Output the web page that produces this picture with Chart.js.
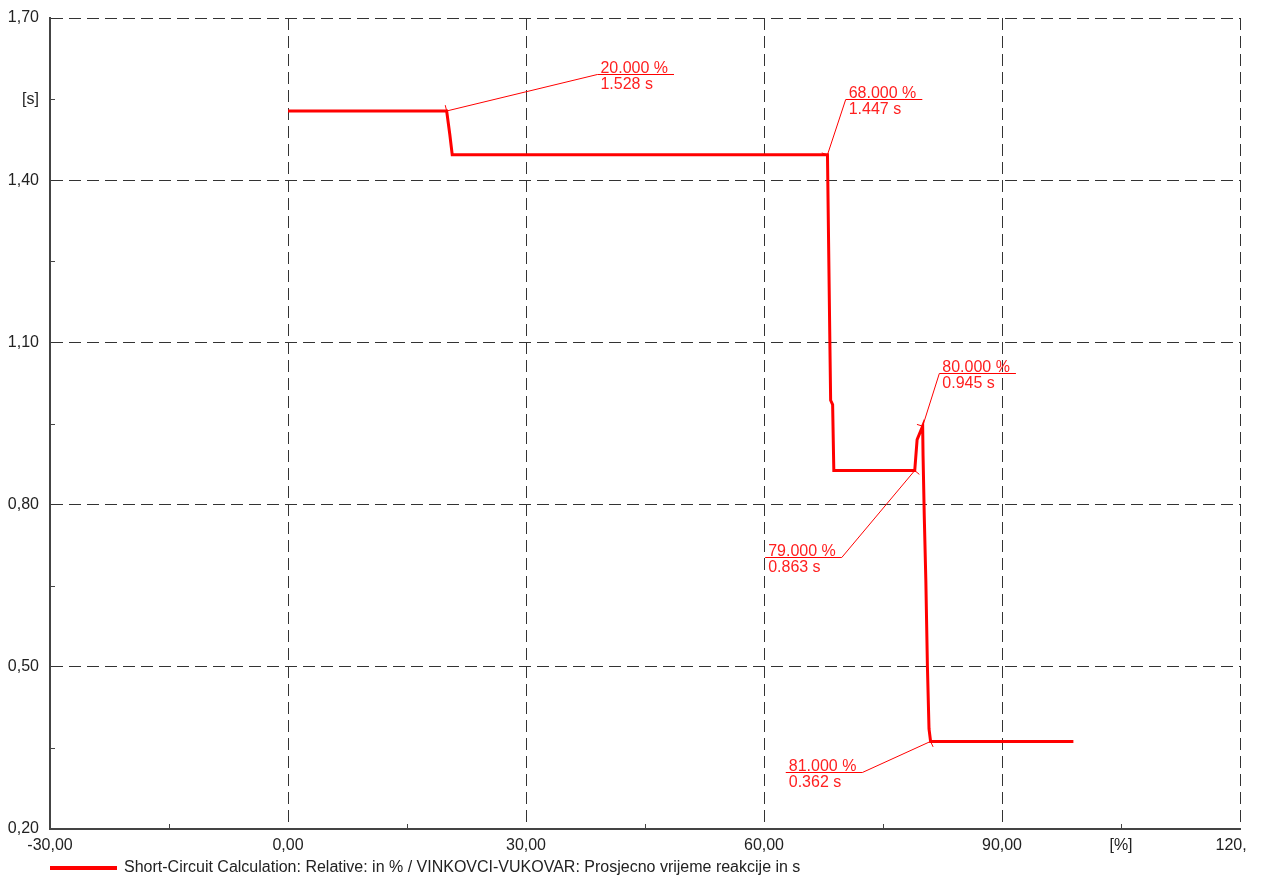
<!DOCTYPE html>
<html>
<head>
<meta charset="utf-8">
<title>Short-Circuit Calculation</title>
<script src="https://cdn.jsdelivr.net/npm/chart.js@4.4.1/dist/chart.umd.min.js"></script>
<style>
    html, body { margin: 0; padding: 0; background: #fff; }
    #clip { width: 1246px; height: 879px; overflow: hidden; }
    #box { width: 1264px; height: 879px; position: relative; }
</style>
</head>
<body>
<div id="clip"><div id="box"><canvas id="scChart"></canvas></div></div>
<script>
// curve: x in %, y in s
const relValues = [0, 20, 20.4, 20.7, 68, 68.3, 68.4, 68.65, 68.8, 79, 79.3, 80, 80.05, 80.2, 80.4, 80.6, 80.8, 81, 99];
const timeValues = [1.528, 1.528, 1.484, 1.447, 1.447, 1.104, 0.993, 0.985, 0.863, 0.863, 0.92, 0.945, 0.89, 0.78, 0.66, 0.50, 0.385, 0.362, 0.362];

// marked points and where their labels sit (data units)
const markX = [20, 68, 80, 79, 81];
const markY = [1.528, 1.447, 0.945, 0.863, 0.362];
const labelX = [39, 70.3, 82.1, 69.8, 72.4];
const labelY = [1.596, 1.550, 1.043, 0.703, 0.306];
const labelSide = ['right', 'right', 'right', 'left', 'left'];

const seriesName = 'Short-Circuit Calculation: Relative: in % / VINKOVCI-VUKOVAR: Prosjecno vrijeme reakcije in s';
const xUnit = '[%]';
const yUnit = '[s]';

const FONT = '"Liberation Sans", Arial, sans-serif';
Chart.defaults.font.family = FONT;
Chart.defaults.font.size = 16;
Chart.defaults.color = '#222';

const points = relValues.map((v, i) => ({ x: v, y: timeValues[i] }));

function fmt(v) {
    return v.toFixed(2).replace('.', ',');
}

//short inward ticks between the grid lines
const minorTicks = {
    id: 'minorTicks',
    afterDraw(chart) {
        const { ctx, chartArea, scales: { x, y } } = chart;
        ctx.save();
        ctx.strokeStyle = '#444';
        ctx.lineWidth = 1;
        ctx.beginPath();
        x.ticks.forEach((t, i) => {
            if (i % 2 === 1) {
                const px = Math.round(x.getPixelForValue(t.value)) + 0.5;
                ctx.moveTo(px, chartArea.bottom);
                ctx.lineTo(px, chartArea.bottom - 5);
            }
        });
        y.ticks.forEach((t, i) => {
            if (i % 2 === 1) {
                const py = Math.round(y.getPixelForValue(t.value)) + 0.5;
                ctx.moveTo(chartArea.left, py);
                ctx.lineTo(chartArea.left + 5, py);
            }
        });
        ctx.stroke();
        ctx.restore();
    }
};

//labels with leader lines
const callouts = {
    id: 'callouts',
    afterDatasetsDraw(chart) {
        const { ctx, scales: { x, y } } = chart;
        ctx.save();
        ctx.font = '16px ' + FONT;
        ctx.strokeStyle = '#ff0000';
        ctx.fillStyle = '#ff2020';
        ctx.lineWidth = 1;
        markX.forEach((mx, i) => {
            const px = x.getPixelForValue(mx);
            const py = y.getPixelForValue(markY[i]);
            const lx = x.getPixelForValue(labelX[i]);
            const ly = Math.round(y.getPixelForValue(labelY[i])) + 0.5;
            const top = mx.toFixed(3) + ' %';
            const bottom = markY[i].toFixed(3) + ' s';
            const w = Math.max(ctx.measureText(top).width, ctx.measureText(bottom).width) + 9;
            const left = labelSide[i] === 'right' ? lx : lx - w;

            ctx.beginPath();
            ctx.moveTo(px, py);
            ctx.lineTo(lx, ly);
            ctx.moveTo(left, ly);
            ctx.lineTo(left + w, ly);
            // little mark at the point
            const len = Math.hypot(lx - px, ly - py);
            const ux = (lx - px) / len, uy = (ly - py) / len;
            ctx.moveTo(px, py);
            ctx.lineTo(px + uy * 6, py - ux * 6);
            ctx.stroke();

            ctx.textAlign = 'left';
            ctx.textBaseline = 'alphabetic';
            ctx.fillText(top, left + 3, ly - 2);
            ctx.fillText(bottom, left + 3, ly + 14);
        });
        ctx.restore();
    }
};

//legend line at the bottom
const bottomLegend = {
    id: 'bottomLegend',
    afterDraw(chart) {
        const { ctx } = chart;
        const ds = chart.data.datasets[0];
        ctx.save();
        ctx.strokeStyle = ds.borderColor;
        ctx.lineWidth = 4;
        ctx.beginPath();
        ctx.moveTo(50, 868);
        ctx.lineTo(117, 868);
        ctx.stroke();
        ctx.font = '16px ' + FONT;
        ctx.fillStyle = '#222';
        ctx.textBaseline = 'middle';
        ctx.fillText(ds.label, 124, 868);
        ctx.restore();
    }
};

const scChart = new Chart(document.getElementById('scChart'), {
    type: 'line',
    data: {
        datasets: [{
            label: seriesName,
            data: points,
            borderColor: '#ff0000',
            borderWidth: 3,
            pointRadius: 0,
            fill: false,
            tension: 0,
        }],
    },
    options: {
        responsive: true,
        maintainAspectRatio: false,
        animation: false,
        layout: {
            padding: { top: 18, right: 24, bottom: 0, left: 0 }
        },
        plugins: {
            legend: { display: false },
            tooltip: { enabled: false }
        },
        scales: {
            x: {
                type: 'linear',
                min: -30,
                max: 120,
                afterFit: s => {
                    s.height = 50;
                    s.paddingLeft = 0;
                    s.paddingRight = 0;
                },
                ticks: {
                    stepSize: 15,
                    autoSkip: false,
                    maxRotation: 0,
                    padding: 7,
                    color: '#222',
                    callback: (v, i) => {
                        if (i % 2 === 0) return fmt(v);
                        return Math.abs(v - 105) < 1e-6 ? xUnit : '';
                    }
                },
                grid: {
                    drawTicks: false,
                    color: c => (c.index % 2 === 0 ? '#333' : 'transparent'),
                    lineWidth: 1,
                },
                border: { color: '#444', width: 2, dash: [12, 6] }
            },
            y: {
                type: 'linear',
                min: 0.2,
                max: 1.7,
                afterFit: s => {
                    s.width = 50;
                    s.paddingTop = 0;
                    s.paddingBottom = 0;
                },
                ticks: {
                    stepSize: 0.15,
                    autoSkip: false,
                    padding: 11,
                    color: '#222',
                    callback: (v, i) => {
                        if (i % 2 === 0) return fmt(v);
                        return Math.abs(v - 1.55) < 1e-6 ? yUnit : '';
                    }
                },
                grid: {
                    drawTicks: false,
                    color: c => (c.index % 2 === 0 ? '#333' : 'transparent'),
                    lineWidth: 1,
                },
                border: { color: '#444', width: 2, dash: [12, 6] }
            }
        }
    },
    plugins: [minorTicks, callouts, bottomLegend]
});
</script>
</body>
</html>
